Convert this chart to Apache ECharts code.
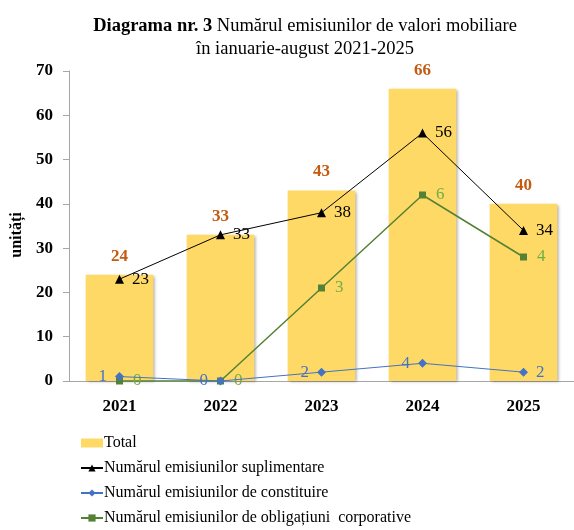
<!DOCTYPE html>
<html>
<head>
<meta charset="utf-8">
<script src="https://cdn.jsdelivr.net/npm/echarts@6/dist/echarts.min.js"></script>
<style>
  html, body { margin: 0; padding: 0; background: #fff; }
  #chart { width: 574px; height: 530px; }
</style>
</head>
<body>
<div id="chart"></div>
<script>
// date citite din diagrama
let years = ['2021', '2022', '2023', '2024', '2025'];
let total = [24, 33, 43, 66, 40];
let suplimentare = [23, 33, 38, 56, 34];
let constituire = [1, 0, 2, 4, 2];
let obligatiuni = [0, 0, 3, 6, 4];   // pe axa secundara (ascunsa)
let yTicks = [0, 10, 20, 30, 40, 50, 60, 70];

let font = 'Liberation Serif, Times New Roman, serif';
let bluePos = ['left', 'left', 'left', 'left', 'right'];

var chart = echarts.init(document.getElementById('chart'));
option = {
	animation: false,
	title: {
		text: '{b|Diagrama nr. 3} Numărul emisiunilor de valori mobiliare\nîn ianuarie-august 2021-2025',
		left: 300,
		top: 10,
		textAlign: 'center',
		textStyle: {
			fontFamily: font,
			fontSize: 18.5,
			fontWeight: 'normal',
			color: '#000',
			lineHeight: 23,
			rich: {
				b: { fontFamily: font, fontSize: 18.5, fontWeight: 'bold', color: '#000' }
			}
		}
	},
	grid: { left: 69, right: 0, top: 71, bottom: 149 },
	legend: {
		orient: 'vertical',
		left: 80,
		top: 435,
		padding: 0,
		itemGap: 9,
		itemWidth: 22,
		itemHeight: 9,
		textStyle: { fontFamily: font, fontSize: 16, color: '#000', padding: [0, 0, 0, -4] },
		data: [
			{ name: 'Total', icon: 'rect' },
			'Numărul emisiunilor suplimentare',
			'Numărul emisiunilor de constituire',
			'Numărul emisiunilor de obligațiuni  corporative'
		]
	},
	xAxis: {
		type: 'category',
		data: years,
		axisLine: { lineStyle: { color: '#a6a6a6' } },
		axisTick: { show: false },
		axisLabel: { fontFamily: font, fontSize: 17, fontWeight: 'bold', color: '#000', margin: 17 }
	},
	yAxis: [{
		type: 'value',
		min: yTicks[0],
		max: yTicks[yTicks.length - 1],
		interval: 10,
		name: 'unități',
		nameLocation: 'middle',
		nameGap: 41,
		nameTextStyle: { fontFamily: font, fontSize: 16, fontWeight: 'bold', color: '#000', padding: [0, 0, 0, -18] },
		splitLine: { show: false },
		axisLine: { show: true, lineStyle: { color: '#a6a6a6' } },
		axisTick: { show: true, length: 6, lineStyle: { color: '#a6a6a6' } },
		axisLabel: { fontFamily: font, fontSize: 17, fontWeight: 'bold', color: '#000', margin: 16 }
	}, {
		type: 'value',
		min: 0,
		max: 10,
		show: false,
		splitLine: { show: false }
	}],
	series: [
		{
			name: 'Total',
			type: 'bar',
			data: total,
			barCategoryGap: '33%',
			itemStyle: {
				color: '#ffd966',
				shadowColor: 'rgba(0,0,0,0.35)',
				shadowBlur: 3,
				shadowOffsetX: 2,
				shadowOffsetY: 1
			},
			label: {
				show: true,
				position: 'top',
				distance: 10,
				fontFamily: font,
				fontSize: 17,
				fontWeight: 'bold',
				color: '#c55a11'
			}
		},
		{
			name: 'Numărul emisiunilor suplimentare',
			type: 'line',
			data: suplimentare,
			symbol: 'triangle',
			symbolSize: 9,
			z: 5,
			lineStyle: { color: '#000', width: 1 },
			itemStyle: { color: '#000' },
			label: { show: true, position: 'right', distance: 8, fontFamily: font, fontSize: 17, color: '#000' }
		},
		{
			name: 'Numărul emisiunilor de constituire',
			type: 'line',
			data: constituire.map(function (v, i) {
				return { value: v, label: { position: bluePos[i] } };
			}),
			symbol: 'diamond',
			symbolSize: 9,
			z: 5,
			lineStyle: { color: '#4472c4', width: 1 },
			itemStyle: { color: '#4472c4' },
			label: { show: true, distance: 8, fontFamily: font, fontSize: 17, color: '#4472c4' }
		},
		{
			name: 'Numărul emisiunilor de obligațiuni  corporative',
			type: 'line',
			yAxisIndex: 1,
			data: obligatiuni,
			symbol: 'rect',
			symbolSize: 7,
			z: 4,
			lineStyle: { color: '#548235', width: 1.5 },
			itemStyle: { color: '#548235' },
			label: { show: true, position: 'right', distance: 10, fontFamily: font, fontSize: 17, color: '#70ad47' }
		}
	]
};
chart.setOption(option);
</script>
</body>
</html>
